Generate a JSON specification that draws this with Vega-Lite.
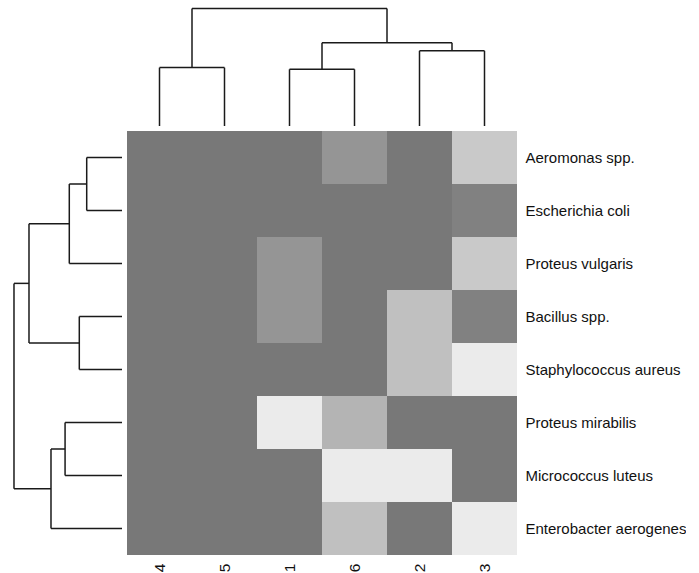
{
  "$schema": "https://vega.github.io/schema/vega-lite/v6.json",
  "padding": 0,
  "background": "white",
  "config": {"view": {"stroke": null}, "font": "Liberation Sans"},
  "columns": 2,
  "spacing": 4,
  "concat": [
    {
      "width": 122, "height": 126,
      "data": {"values": []},
      "mark": "text",
      "encoding": {}
    },
    {
      "width": 390, "height": 126,
      "data": {"values": [
        {"x": 0.5, "x2": 0.5, "h": 0, "h2": 1.39},
        {"x": 1.5, "x2": 1.5, "h": 0, "h2": 1.39},
        {"x": 0.5, "x2": 1.5, "h": 1.39, "h2": 1.39},
        {"x": 2.5, "x2": 2.5, "h": 0, "h2": 1.35},
        {"x": 3.5, "x2": 3.5, "h": 0, "h2": 1.35},
        {"x": 2.5, "x2": 3.5, "h": 1.35, "h2": 1.35},
        {"x": 4.5, "x2": 4.5, "h": 0, "h2": 1.79},
        {"x": 5.5, "x2": 5.5, "h": 0, "h2": 1.79},
        {"x": 4.5, "x2": 5.5, "h": 1.79, "h2": 1.79},
        {"x": 3.0, "x2": 3.0, "h": 1.35, "h2": 1.98},
        {"x": 5.0, "x2": 5.0, "h": 1.79, "h2": 1.98},
        {"x": 3.0, "x2": 5.0, "h": 1.98, "h2": 1.98},
        {"x": 1.0, "x2": 1.0, "h": 1.39, "h2": 2.80},
        {"x": 4.0, "x2": 4.0, "h": 1.98, "h2": 2.80},
        {"x": 1.0, "x2": 4.0, "h": 2.80, "h2": 2.80}
      ]},
      "mark": {"type": "rule", "color": "#1a1a1a", "strokeWidth": 1.5},
      "encoding": {
        "x": {"field": "x", "type": "quantitative", "scale": {"domain": [0, 6], "nice": false}, "axis": null},
        "x2": {"field": "x2"},
        "y": {"field": "h", "type": "quantitative", "scale": {"domain": [0, 3], "nice": false}, "axis": null},
        "y2": {"field": "h2"}
      }
    },
    {
      "width": 122, "height": 424,
      "data": {"values": [
        {"r": 0.5, "r2": 0.5, "h": 0, "h2": 0.868},
        {"r": 1.5, "r2": 1.5, "h": 0, "h2": 0.868},
        {"r": 0.5, "r2": 1.5, "h": 0.868, "h2": 0.868},
        {"r": 2.5, "r2": 2.5, "h": 0, "h2": 1.296},
        {"r": 1.0, "r2": 1.0, "h": 0.868, "h2": 1.296},
        {"r": 1.0, "r2": 2.5, "h": 1.296, "h2": 1.296},
        {"r": 3.5, "r2": 3.5, "h": 0, "h2": 1.05},
        {"r": 4.5, "r2": 4.5, "h": 0, "h2": 1.05},
        {"r": 3.5, "r2": 4.5, "h": 1.05, "h2": 1.05},
        {"r": 1.75, "r2": 1.75, "h": 1.296, "h2": 2.287},
        {"r": 4.0, "r2": 4.0, "h": 1.05, "h2": 2.287},
        {"r": 1.75, "r2": 4.0, "h": 2.287, "h2": 2.287},
        {"r": 5.5, "r2": 5.5, "h": 0, "h2": 1.40},
        {"r": 6.5, "r2": 6.5, "h": 0, "h2": 1.40},
        {"r": 5.5, "r2": 6.5, "h": 1.40, "h2": 1.40},
        {"r": 7.5, "r2": 7.5, "h": 0, "h2": 1.746},
        {"r": 6.0, "r2": 6.0, "h": 1.40, "h2": 1.746},
        {"r": 6.0, "r2": 7.5, "h": 1.746, "h2": 1.746},
        {"r": 2.875, "r2": 2.875, "h": 2.287, "h2": 2.656},
        {"r": 6.75, "r2": 6.75, "h": 1.746, "h2": 2.656},
        {"r": 2.875, "r2": 6.75, "h": 2.656, "h2": 2.656}
      ]},
      "mark": {"type": "rule", "color": "#1a1a1a", "strokeWidth": 1.5},
      "encoding": {
        "x": {"field": "h", "type": "quantitative", "scale": {"domain": [0, 3], "nice": false, "reverse": true}, "axis": null},
        "x2": {"field": "h2"},
        "y": {"field": "r", "type": "quantitative", "scale": {"domain": [0, 8], "nice": false, "reverse": true}, "axis": null},
        "y2": {"field": "r2"}
      }
    },
    {
      "width": 390, "height": 424,
      "data": {"values": [
        {"r": "Aeromonas spp.", "c": "4", "v": 0},
        {"r": "Aeromonas spp.", "c": "5", "v": 0},
        {"r": "Aeromonas spp.", "c": "1", "v": 0},
        {"r": "Aeromonas spp.", "c": "6", "v": 1},
        {"r": "Aeromonas spp.", "c": "2", "v": 0},
        {"r": "Aeromonas spp.", "c": "3", "v": 2.8},
        {"r": "Escherichia coli", "c": "4", "v": 0},
        {"r": "Escherichia coli", "c": "5", "v": 0},
        {"r": "Escherichia coli", "c": "1", "v": 0},
        {"r": "Escherichia coli", "c": "6", "v": 0},
        {"r": "Escherichia coli", "c": "2", "v": 0},
        {"r": "Escherichia coli", "c": "3", "v": 0.3},
        {"r": "Proteus vulgaris", "c": "4", "v": 0},
        {"r": "Proteus vulgaris", "c": "5", "v": 0},
        {"r": "Proteus vulgaris", "c": "1", "v": 1},
        {"r": "Proteus vulgaris", "c": "6", "v": 0},
        {"r": "Proteus vulgaris", "c": "2", "v": 0},
        {"r": "Proteus vulgaris", "c": "3", "v": 2.8},
        {"r": "Bacillus spp.", "c": "4", "v": 0},
        {"r": "Bacillus spp.", "c": "5", "v": 0},
        {"r": "Bacillus spp.", "c": "1", "v": 1},
        {"r": "Bacillus spp.", "c": "6", "v": 0},
        {"r": "Bacillus spp.", "c": "2", "v": 2.5},
        {"r": "Bacillus spp.", "c": "3", "v": 0.3},
        {"r": "Staphylococcus aureus", "c": "4", "v": 0},
        {"r": "Staphylococcus aureus", "c": "5", "v": 0},
        {"r": "Staphylococcus aureus", "c": "1", "v": 0},
        {"r": "Staphylococcus aureus", "c": "6", "v": 0},
        {"r": "Staphylococcus aureus", "c": "2", "v": 2.5},
        {"r": "Staphylococcus aureus", "c": "3", "v": 4},
        {"r": "Proteus mirabilis", "c": "4", "v": 0},
        {"r": "Proteus mirabilis", "c": "5", "v": 0},
        {"r": "Proteus mirabilis", "c": "1", "v": 4},
        {"r": "Proteus mirabilis", "c": "6", "v": 2.1},
        {"r": "Proteus mirabilis", "c": "2", "v": 0},
        {"r": "Proteus mirabilis", "c": "3", "v": 0},
        {"r": "Micrococcus luteus", "c": "4", "v": 0},
        {"r": "Micrococcus luteus", "c": "5", "v": 0},
        {"r": "Micrococcus luteus", "c": "1", "v": 0},
        {"r": "Micrococcus luteus", "c": "6", "v": 4},
        {"r": "Micrococcus luteus", "c": "2", "v": 4},
        {"r": "Micrococcus luteus", "c": "3", "v": 0},
        {"r": "Enterobacter aerogenes", "c": "4", "v": 0},
        {"r": "Enterobacter aerogenes", "c": "5", "v": 0},
        {"r": "Enterobacter aerogenes", "c": "1", "v": 0},
        {"r": "Enterobacter aerogenes", "c": "6", "v": 2.5},
        {"r": "Enterobacter aerogenes", "c": "2", "v": 0},
        {"r": "Enterobacter aerogenes", "c": "3", "v": 4}
      ]},
      "mark": {"type": "rect"},
      "encoding": {
        "x": {
          "field": "c", "type": "nominal",
          "sort": ["4", "5", "1", "6", "2", "3"],
          "scale": {"paddingInner": 0, "paddingOuter": 0},
          "axis": {"title": null, "orient": "bottom", "ticks": false, "domain": false, "grid": false, "labelAngle": 270, "labelPadding": 8, "labelFontSize": 15.5, "labelColor": "#111111", "labelFont": "Liberation Sans"}
        },
        "y": {
          "field": "r", "type": "nominal",
          "sort": ["Aeromonas spp.", "Escherichia coli", "Proteus vulgaris", "Bacillus spp.", "Staphylococcus aureus", "Proteus mirabilis", "Micrococcus luteus", "Enterobacter aerogenes"],
          "scale": {"paddingInner": 0, "paddingOuter": 0},
          "axis": {"title": null, "orient": "right", "ticks": false, "domain": false, "grid": false, "labelPadding": 8, "labelFontSize": 15, "labelColor": "#111111", "labelFont": "Liberation Sans"}
        },
        "color": {
          "field": "v", "type": "quantitative",
          "scale": {"domain": [0, 4], "range": ["#787878", "#ebebeb"], "interpolate": "rgb"},
          "legend": null
        }
      }
    }
  ]
}
